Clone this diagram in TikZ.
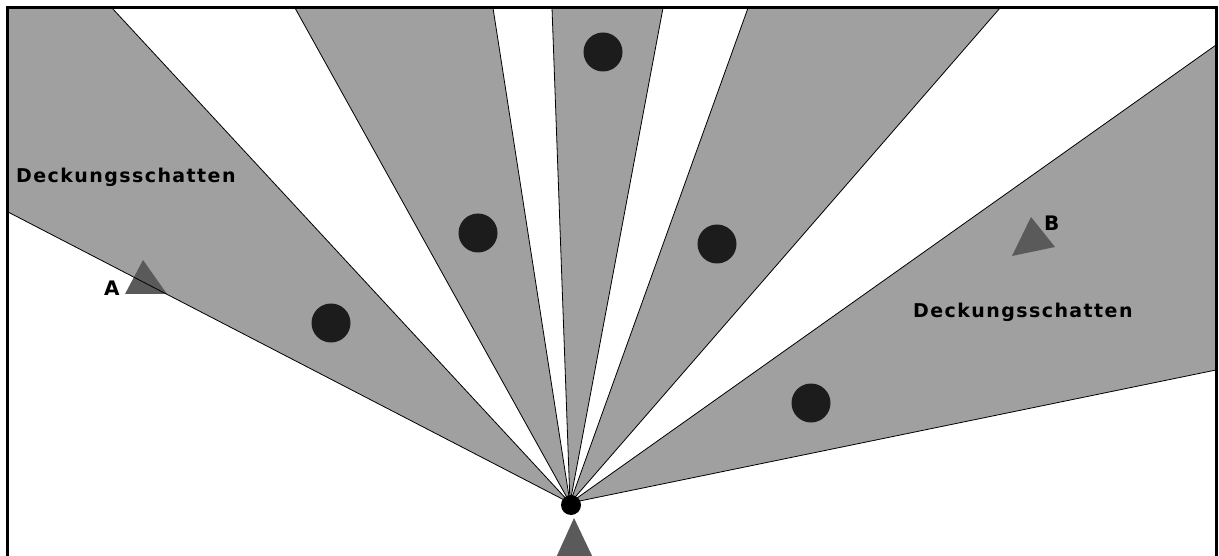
\documentclass[tikz,border=0pt]{standalone}
\usepackage{fontspec}
\setmainfont{DejaVu Sans}
\begin{document}
\begin{tikzpicture}[x=1pt,y=-1pt,
  edge/.style={line width=0.8pt},
  obstacle/.style={circle,fill=obstaclegray,minimum size=39pt,inner sep=0pt},
  label/.style={font=\bfseries\fontsize{19}{22}\selectfont\addfontfeatures{LetterSpace=7.5},anchor=base west,inner sep=0pt},
  letter/.style={font=\bfseries\fontsize{20}{22}\selectfont,anchor=base west,inner sep=0pt},
  person/.style={fill=persongray}]
\definecolor{shadowgray}{HTML}{A0A0A0}
\definecolor{obstaclegray}{HTML}{1C1C1C}
\definecolor{persongray}{HTML}{5A5A5A}
\useasboundingbox (0,0) rectangle (1219,556);
\clip (0,0) rectangle (1219,556);
\coordinate (O) at (570,503);
% shadow wedges (fills)
\fill[shadowgray] (O) -- (8,212) -- (8,8) -- (112,8) -- cycle;
\fill[shadowgray] (O) -- (295,8) -- (493,8) -- cycle;
\fill[shadowgray] (O) -- (552,8) -- (663,8) -- cycle;
\fill[shadowgray] (O) -- (748,8) -- (1000,8) -- cycle;
\fill[shadowgray] (O) -- (1216,45) -- (1216,370) -- cycle;
% targets
\fill[person] (125,294) -- (143,260) -- (167,294) -- cycle;
\node[letter] (A) at (104,296) {A};
\fill[person] (1031,217) -- (1012,256) -- (1055,247) -- cycle;
\node[letter] (B) at (1044,231) {B};
% shadow wedges (edges)
\draw[edge] (8,212) -- (O) -- (112,8);
\draw[edge] (295,8) -- (O) -- (493,8);
\draw[edge] (552,8) -- (O) -- (663,8);
\draw[edge] (748,8) -- (O) -- (1000,8);
\draw[edge] (1216,45) -- (O) -- (1216,370);
% obstacles
\node[obstacle] (c1) at (331,323) {};
\node[obstacle] (c2) at (478,233) {};
\node[obstacle] (c3) at (603,52) {};
\node[obstacle] (c4) at (717,244) {};
\node[obstacle] (c5) at (811,403) {};
% observer
\node[circle,fill=black,minimum size=20pt,inner sep=0pt] (eye) at (571,505) {};
\fill[person] (574,518) -- (594,560) -- (555,560) -- cycle;
% labels
\node[label] (L1) at (16,183) {Deckungsschatten};
\node[label] (L2) at (913,317) {Deckungsschatten};
% frame
\draw[line width=3pt] (7.5,560) -- (7.5,7.5) -- (1216.5,7.5) -- (1216.5,560);
\end{tikzpicture}
\end{document}
